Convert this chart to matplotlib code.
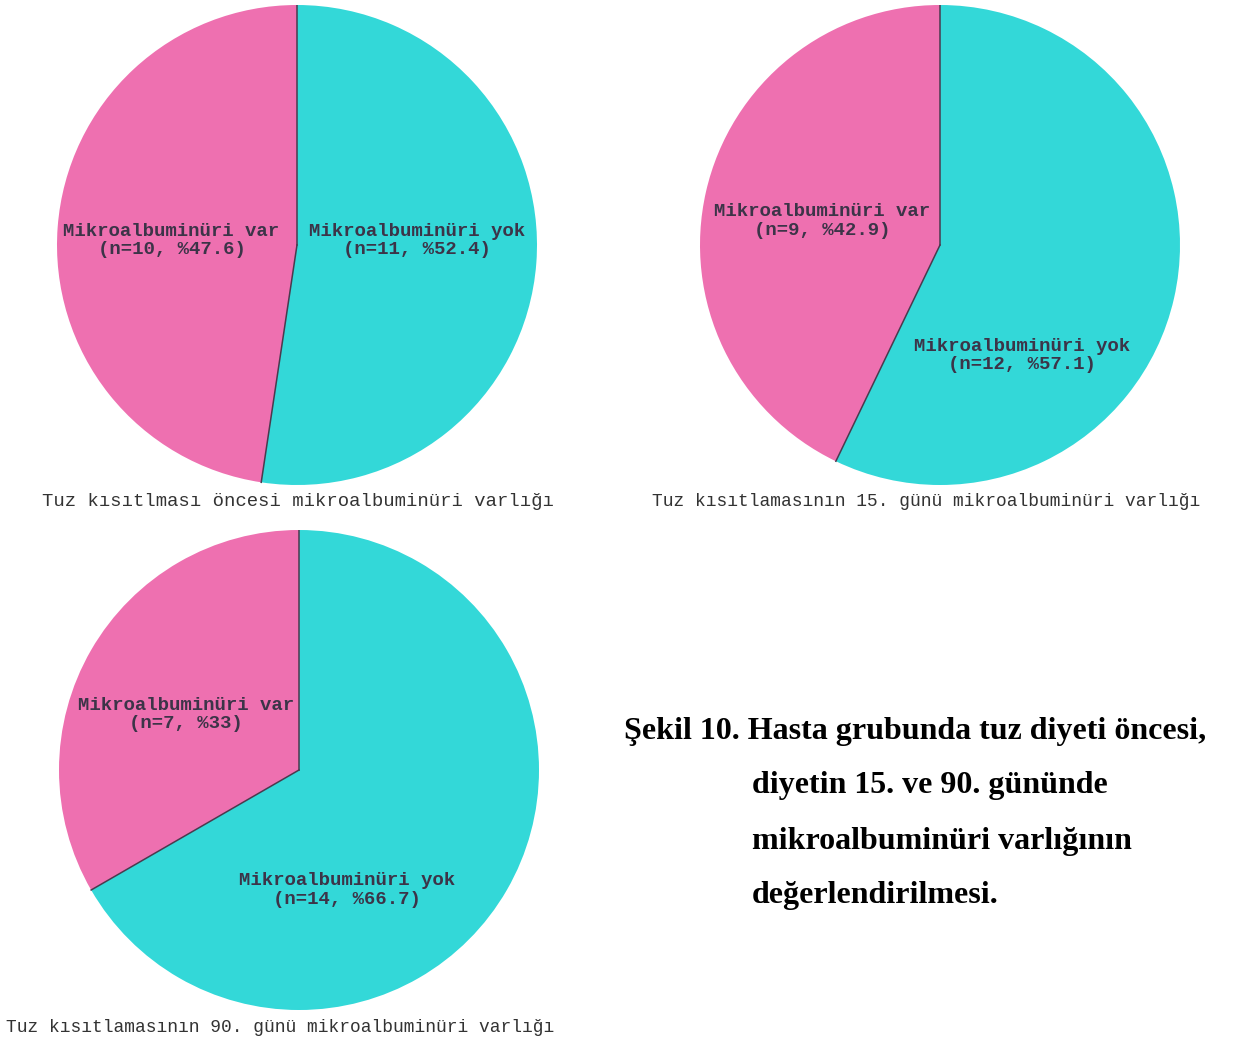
import numpy as np
import matplotlib.pyplot as plt

# patient counts: [var, yok]
labels = ['Mikroalbuminüri var', 'Mikroalbuminüri yok']
counts_pre = [10, 11]
counts_15 = [9, 12]
counts_90 = [7, 14]
pct_pre = ['47.6', '52.4']
pct_15 = ['42.9', '57.1']
pct_90 = ['33', '66.7']
captions = ['Tuz kısıtlması öncesi mikroalbuminüri varlığı',
            'Tuz kısıtlamasının 15. günü mikroalbuminüri varlığı',
            'Tuz kısıtlamasının 90. günü mikroalbuminüri varlığı']
title_lines = ['Şekil 10. Hasta grubunda tuz diyeti öncesi,',
               'diyetin 15. ve 90. gününde',
               'mikroalbuminüri varlığının',
               'değerlendirilmesi.']

colors = ['#ee70b0', '#33d8d8']
txt_col = '#3c3448'
W, H = 1241, 1041

fig = plt.figure(figsize=(W / 100, H / 100), dpi=100)


def pix_axes(x0, y0, x1, y1):
    return fig.add_axes([x0 / W, 1 - y1 / H, (x1 - x0) / W, (y1 - y0) / H])


def draw_pie(ax, counts, pcts, label_pos):
    wedges, _ = ax.pie(counts, colors=colors, startangle=90, counterclock=True,
                       radius=1, wedgeprops=dict(linewidth=0, edgecolor='none'))
    # dividing lines between the slices
    for w in wedges:
        a = np.deg2rad(w.theta1)
        ax.plot([0, np.cos(a)], [0, np.sin(a)], color='#4a3a4e', lw=1.1)
    for lab, n, p, (lx, ly) in zip(labels, counts, pcts, label_pos):
        ax.text(lx, ly, f'{lab}\n(n={n}, %{p})', ha='center', va='center',
                family='Liberation Mono', weight='bold', fontsize=13.7,
                color=txt_col, linespacing=1.1)
    ax.set_xlim(-1.0, 1.0)
    ax.set_ylim(-1.0, 1.0)
    ax.set_aspect('equal')
    ax.axis('off')


ax1 = pix_axes(57, 5, 537, 485)
draw_pie(ax1, counts_pre, pct_pre, [(-0.523, 0.02), (0.5, 0.02)])
ax2 = pix_axes(700, 5, 1180, 485)
draw_pie(ax2, counts_15, pct_15, [(-0.49, 0.1), (0.34, -0.46)])
ax3 = pix_axes(59, 530, 539, 1010)
draw_pie(ax3, counts_90, pct_90, [(-0.47, 0.23), (0.2, -0.5)])

cap_kw = dict(ha='center', va='center', family='Liberation Mono', color='#333333')
fig.text(298 / W, 1 - 502 / H, captions[0], fontsize=13.6, **cap_kw)
fig.text(926 / W, 1 - 502 / H, captions[1], fontsize=12.9, **cap_kw)
fig.text(280 / W, 1 - 1027 / H, captions[2], fontsize=12.9, **cap_kw)

title_kw = dict(ha='left', va='center', family='Liberation Serif',
                weight='bold', fontsize=23, color='black')
fig.text(624 / W, 1 - 731 / H, title_lines[0], **title_kw)
for i, line in enumerate(title_lines[1:]):
    fig.text(752 / W, 1 - (786 + 55 * i) / H, line, **title_kw)

plt.savefig('out.png', dpi=100)
